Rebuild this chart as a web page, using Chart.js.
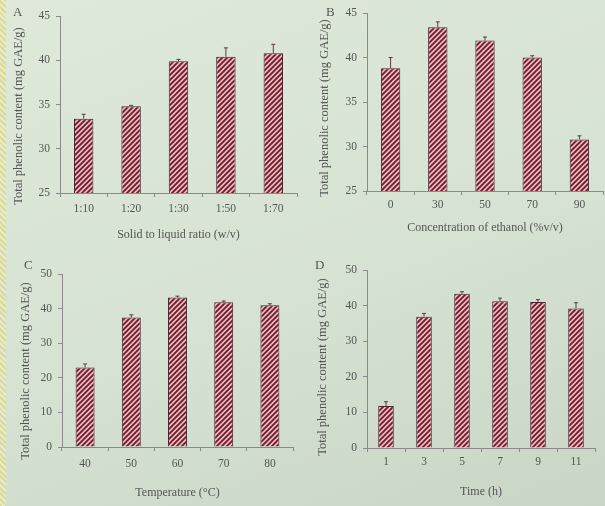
<!DOCTYPE html>
<html><head><meta charset="utf-8">
<script src="https://cdn.jsdelivr.net/npm/chart.js@4"></script>
<style>
html,body{margin:0;padding:0;}
body{width:605px;height:506px;overflow:hidden;position:relative;
 background:linear-gradient(160deg,#dee9da 0%,#d6e2d2 55%,#c9d6c5 100%);
 font-family:"Liberation Serif",serif;}
.strip{position:absolute;left:0;top:0;width:6px;height:506px;
 background:repeating-linear-gradient(45deg,#d9da9c 0 2px,#e8ecc4 2px 4px);}
.panel{position:absolute;}
.lbl{position:absolute;color:#555;font-size:13px;line-height:13px;}
</style></head>
<body>
<div class="strip"></div>
<canvas id="cA" class="panel" style="left:0;top:0" width="302" height="253"></canvas>
<canvas id="cB" class="panel" style="left:302px;top:0" width="303" height="253"></canvas>
<canvas id="cC" class="panel" style="left:0;top:253px" width="302" height="253"></canvas>
<canvas id="cD" class="panel" style="left:302px;top:253px" width="303" height="253"></canvas>
<div class="lbl" style="left:13px;top:5px">A</div>
<div class="lbl" style="left:326px;top:5px">B</div>
<div class="lbl" style="left:24px;top:258px">C</div>
<div class="lbl" style="left:315px;top:258px">D</div>
<script>
// ---- data ----
const catsA = ['1:10', '1:20', '1:30', '1:50', '1:70'];
const valsA = [33.4, 34.8, 39.9, 40.4, 40.8];
const errA  = [0.5, 0.1, 0.2, 1.0, 1.0];

const catsB = ['0', '30', '50', '70', '90'];
const valsB = [38.8, 43.4, 41.9, 40.0, 30.8];
const errB  = [1.2, 0.6, 0.4, 0.2, 0.4];

const catsC = ['40', '50', '60', '70', '80'];
const valsC = [23.0, 37.4, 43.2, 41.8, 41.0];
const errC  = [1.0, 0.8, 0.4, 0.4, 0.4];

const catsD = ['1', '3', '5', '7', '9', '11'];
const valsD = [11.8, 36.9, 43.3, 41.2, 41.0, 39.2];
const errD  = [1.2, 0.9, 0.6, 0.9, 0.7, 1.6];

const yTitle = 'Total phenolic content (mg GAE/g)';
const xTitleA = 'Solid to liquid ratio (w/v)';
const xTitleB = 'Concentration of ethanol (%v/v)';
const xTitleC = 'Temperature (°C)';
const xTitleD = 'Time (h)';

// ---- style ----
const TXT = '#555';
const AX = '#8a8a8a';
const FONT = 'Liberation Serif';

function makePattern() {
  const s = 5;
  const c = document.createElement('canvas'); c.width = s; c.height = s;
  const g = c.getContext('2d');
  g.fillStyle = '#f4b3b8'; g.fillRect(0, 0, s, s);
  g.strokeStyle = '#62202f'; g.lineWidth = 1.75;
  g.beginPath();
  g.moveTo(-1, s + 1); g.lineTo(s + 1, -1);
  g.moveTo(-1, 1); g.lineTo(1, -1);
  g.moveTo(s - 1, s + 1); g.lineTo(s + 1, s - 1);
  g.stroke();
  return g.createPattern(c, 'repeat');
}

const errPlugin = {
  id: 'errbars',
  afterDatasetsDraw(chart, args, opts) {
    const ctx = chart.ctx, ys = chart.scales.y;
    const meta = chart.getDatasetMeta(0);
    const vals = chart.data.datasets[0].data;
    ctx.save();
    ctx.strokeStyle = '#5e3a42'; ctx.lineWidth = 1;
    meta.data.forEach((bar, i) => {
      const top = ys.getPixelForValue(vals[i]);
      const e = ys.getPixelForValue(vals[i] + opts.err[i]);
      ctx.beginPath();
      ctx.moveTo(bar.x, top); ctx.lineTo(bar.x, e);
      ctx.moveTo(bar.x - 2, e); ctx.lineTo(bar.x + 2, e);
      ctx.stroke();
    });
    ctx.restore();
  }
};

// rotated y-axis title drawn at a set place in the panel
const yTitlePlugin = {
  id: 'ytitle',
  afterDraw(chart, args, opts) {
    const ctx = chart.ctx;
    ctx.save();
    ctx.translate(opts.x, opts.y);
    ctx.rotate(-Math.PI / 2);
    ctx.fillStyle = TXT;
    ctx.font = '12.5px "' + FONT + '"';
    ctx.textAlign = 'center';
    ctx.textBaseline = 'middle';
    ctx.fillText(opts.text, 0, 0);
    ctx.restore();
  }
};

function build(id, cats, vals, err, geo) {
  const cv = document.getElementById(id);
  const W = cv.width, H = cv.height;
  new Chart(cv, {
    type: 'bar',
    data: { labels: cats, datasets: [{ data: vals, backgroundColor: makePattern(),
      borderColor: '#4a2430', borderWidth: 1, categoryPercentage: 1, barPercentage: 0.41 }] },
    plugins: [errPlugin, yTitlePlugin],
    options: {
      responsive: false, animation: false, devicePixelRatio: 1,
      layout: { padding: { left: 0, top: geo.t, right: W - geo.r, bottom: 0 } },
      plugins: { legend: { display: false }, tooltip: { enabled: false }, errbars: { err: err },
                 ytitle: { text: yTitle, x: geo.yx, y: geo.yy } },
      scales: {
        x: {
          grid: { display: true, drawOnChartArea: false, drawTicks: true, tickLength: 4, color: AX },
          border: { display: true, color: AX, width: 1 },
          ticks: { color: TXT, font: { family: FONT, size: 11.5 }, padding: geo.xtp, maxRotation: 0 },
          title: { display: true, text: geo.xt, color: TXT, font: { family: FONT, size: 12 },
                   padding: { top: 0, bottom: geo.xpb } },
          afterFit: s => { s.height = H - geo.b; }
        },
        y: {
          min: geo.min, max: geo.max,
          grid: { display: true, drawOnChartArea: false, drawTicks: true, tickLength: 4, color: AX },
          border: { display: true, color: AX, width: 1 },
          ticks: { stepSize: geo.step, color: TXT, font: { family: FONT, size: 11.5 }, padding: 6 },
          title: { display: false },
          afterFit: s => { s.width = geo.l; }
        }
      }
    }
  });
}

build('cA', catsA, valsA, errA, { l: 60, t: 16, r: 297, b: 193, min: 25, max: 45, step: 5,
  xt: xTitleA, xtp: 5.1, xpb: 10.8, yx: 19, yy: 116 });
build('cB', catsB, valsB, errB, { l: 65, t: 13, r: 301, b: 191, min: 25, max: 45, step: 5,
  xt: xTitleB, xtp: 3.1, xpb: 17.8, yx: 23, yy: 108 });
build('cC', catsC, valsC, errC, { l: 62, t: 21, r: 293, b: 194, min: 0, max: 50, step: 10,
  xt: xTitleC, xtp: 6.1, xpb: 5.8, yx: 26, yy: 118 });
build('cD', catsD, valsD, errD, { l: 65, t: 17, r: 293, b: 195, min: 0, max: 50, step: 10,
  xt: xTitleD, xtp: 3.1, xpb: 6.8, yx: 20.5, yy: 114 });
</script>
</body></html>
